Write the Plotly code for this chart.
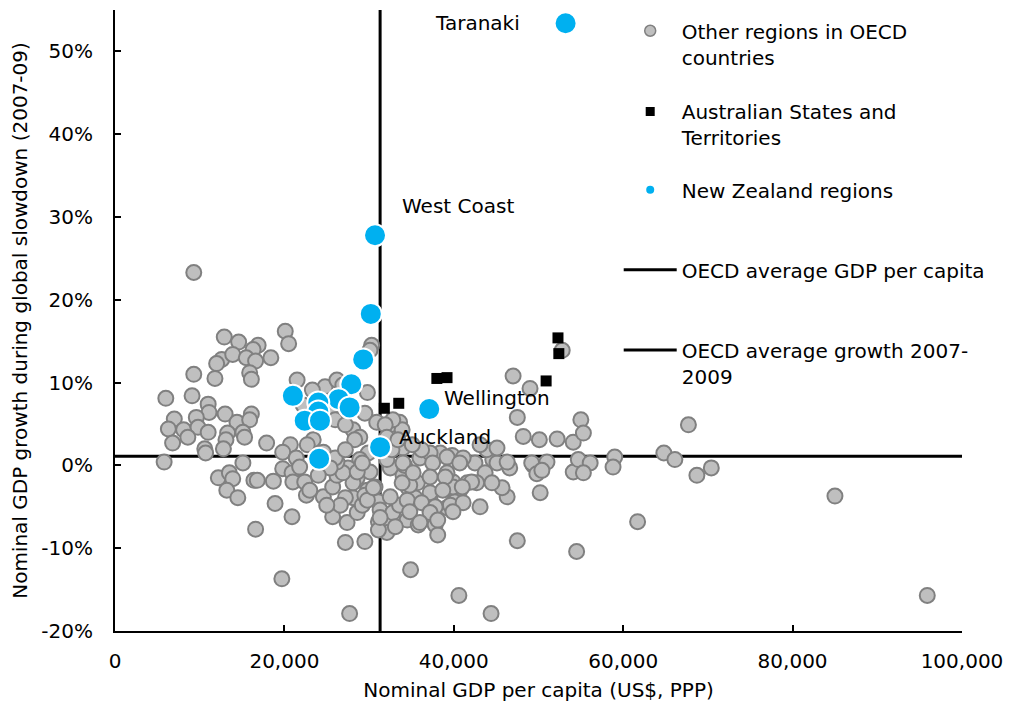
import plotly.graph_objects as go

# ---------------- data ----------------
# Other regions in OECD countries: GDP per capita (US$, PPP) and growth (%)
other_x = [9300, 12900, 14600, 16900, 16300, 12600, 12000, 13900, 15500, 16600,
           18400, 15900, 16100, 9300, 11800, 20100, 20500, 6000, 9100, 11000,
           11100, 9600, 7000, 6300, 8100, 9800, 8600, 6800, 11000, 13000,
           14400, 16100, 15900, 13300, 13100, 15100, 15300, 17900, 20700, 21500,
           10600, 10700, 12800, 5800, 15100, 12200, 13500, 13900, 13200, 14500,
           16400, 16800, 18700, 19800, 20900, 21000, 18900, 20900, 16600, 19700,
           19800, 21400, 21800, 22400, 30300, 30100, 24800, 26200, 29800, 29500,
           30900, 28100, 28900, 28300, 32500, 33600, 33900, 26600, 25400, 23300,
           26900, 22200, 26000, 27200, 29900, 28900, 22600, 24600, 25700, 26200,
           27500, 28600, 28100, 27200, 25700, 27400, 28600, 29200, 29800, 30700,
           31100, 31300, 31100, 31900, 32100, 31100, 32800, 33600, 34500, 34600,
           34000, 32500, 35400, 35800, 27200, 29500, 34900, 27700, 29500, 30100,
           26600, 25000, 47500, 43100, 46300, 45700, 50200, 49400, 46600, 44600,
           42500, 39800, 38400, 36000, 34200, 32100, 41600, 39900, 40700, 39200,
           39900, 39200, 37800, 38100, 37200, 37200, 35700, 34800, 33900, 31300,
           29800, 30500, 28100, 26900, 26200, 28600, 43700, 44500, 42700, 47000,
           49000, 47500, 48200, 50100, 52200, 54100, 55000, 49200, 49800, 51000,
           54100, 40100, 39900, 42100, 45100, 46300, 43900, 41100, 39200, 37200,
           36200, 34000, 32800, 31900, 32100, 34000, 37500, 35200, 37200, 39000,
           40700, 37200, 38700, 41000, 34500, 36200, 37800, 39600, 41100, 34800,
           37200, 32500, 33100, 36000, 38100, 39900, 43100, 45100, 55300, 50400,
           54700, 56100, 55300, 59000, 58800, 61700, 54500, 64800, 66100, 67700,
           68700, 70400, 85000, 95900, 44400, 40600, 52800, 24600, 26000, 27200,
           23400, 22700, 25400, 24000, 23000, 29200, 32700, 33400, 35100]
other_y = [23.3, 15.5, 14.9, 14.5, 14.0, 12.8, 12.3, 13.4, 13.0, 12.6,
           13.0, 11.2, 10.4, 11.0, 10.5, 16.2, 14.7, 8.1, 8.4, 7.4,
           6.4, 5.8, 5.6, 4.4, 4.3, 4.6, 3.4, 2.7, 4.0, 6.2,
           5.2, 6.2, 5.5, 3.9, 3.1, 4.0, 3.4, 2.7, 2.5, 10.3,
           2.0, 1.5, 2.0, 0.4, 0.3, -1.5, -0.9, -1.6, -3.0, -3.9,
           -1.8, -1.8, -1.9, -0.4, -0.9, -2.0, -4.6, -6.2, -7.7, -13.7,
           1.6, 0.9, -0.2, -2.0, 14.5, 13.9, 9.5, 10.3, 8.8, 6.3,
           5.2, 4.3, 3.4, 3.1, 4.9, 5.2, 4.3, 5.8, 6.3, 9.1,
           9.7, 7.3, 5.5, 4.9, 1.5, 0.7, -3.6, -3.8, -2.6, -1.2,
           -0.3, -1.5, -3.9, -3.9, -6.2, -6.9, -5.7, -4.8, -3.0, -2.6,
           -4.4, -5.4, -6.8, -6.9, -8.1, -7.8, -5.7, -4.8, -6.6, -2.7,
           -1.2, -0.3, -3.9, -7.2, -9.3, -9.2, -12.6, -17.9, -3.6, -0.8,
           -4.8, -4.8, -9.1, -5.0, -3.8, -2.7, -3.3, 0.0, -0.3, 0.7,
           0.3, 1.2, 1.5, 0.9, 0.0, 0.7, -2.1, -2.0, -3.0, -0.9,
           -4.5, -5.1, -7.2, -8.4, -5.4, -3.8, -2.1, -2.4, -2.1, -6.3,
           -4.2, -2.7, -2.1, -0.9, 0.4, -0.8, -0.9, -2.1, -2.1, 10.8,
           9.3, 5.8, 3.5, 3.1, 3.2, 2.8, 5.5, 0.3, -1.0, 0.4,
           -0.8, -4.4, -2.6, -2.0, 0.3, 0.4, 1.9, 0.9, 1.0, 1.5,
           1.9, 2.1, 5.5, 4.9, 3.4, 0.3, 0.3, -0.9, -1.4, -1.4,
           0.3, -3.3, -3.0, -2.6, -4.2, -4.5, -5.0, -4.8, -4.5, -5.6,
           -5.7, -3.8, -7.4, -6.9, -6.6, -5.6, 2.5, 2.1, 3.9, -0.6,
           0.7, 0.3, -0.9, 1.0, -0.2, -6.8, -10.4, 1.5, 0.7, 4.9,
           -1.2, -0.3, -3.7, -15.7, -17.9, -15.7, 13.9, 1.6, 0.9, 1.9,
           3.1, 2.5, -0.3, -1.2, -3.0, 0.3, 1.9, 3.1, 2.5]

# Australian States and Territories
aus_x = [31800, 33500, 38000, 39200, 50900, 52300, 52400]
aus_y = [6.9, 7.5, 10.5, 10.6, 10.2, 15.4, 13.5]

# New Zealand regions
nz_names = ["Taranaki", "West Coast", "", "", "", "", "", "", "", "", "", "",
            "Wellington", "Auckland", ""]
nz_x = [53200, 30700, 30200, 29300, 27900, 26400, 27700, 24000, 24000, 22400,
        24200, 21000, 37100, 31300, 24100]
nz_y = [53.4, 27.8, 18.3, 12.8, 9.8, 8.0, 7.0, 7.6, 6.5, 5.4,
        5.4, 8.4, 6.8, 2.2, 0.8]

# OECD averages
oecd_avg_gdp = 31300
oecd_avg_growth = 1.1

# Axes
x_range = [0, 100000]
y_range = [-20, 55]
x_ticks = [0, 20000, 40000, 60000, 80000, 100000]
x_ticktext = ["0", "20,000", "40,000", "60,000", "80,000", "100,000"]
y_ticks = [-20, -10, 0, 10, 20, 30, 40, 50]
y_ticktext = ["-20%", "-10%", "0%", "10%", "20%", "30%", "40%", "50%"]

# Labels for highlighted regions (x, y of text anchor in data units)
label_text = ["Taranaki", "West Coast", "Wellington", "Auckland"]
label_x = [37500, 33700, 38600, 33300]
label_y = [53.4, 31.3, 8.1, 3.4]

legend_names = ["Other regions in OECD<br>countries",
                "Australian States and<br>Territories",
                "New Zealand regions",
                "OECD average GDP per capita",
                "OECD average growth 2007-<br>2009"]

FONT = "DejaVu Sans"
GRAY_FILL = "#bfbfbf"
GRAY_LINE = "#808080"
NZ_BLUE = "#00b0f0"

fig = go.Figure()

# Average lines (drawn first, underneath the markers)
fig.add_trace(go.Scatter(x=[oecd_avg_gdp, oecd_avg_gdp], y=y_range, mode="lines",
                         line=dict(color="black", width=3), showlegend=False,
                         hoverinfo="skip"))
fig.add_trace(go.Scatter(x=x_range, y=[oecd_avg_growth, oecd_avg_growth], mode="lines",
                         line=dict(color="black", width=3), showlegend=False,
                         hoverinfo="skip"))

fig.add_trace(go.Scatter(x=other_x, y=other_y, mode="markers",
                         marker=dict(size=15, color=GRAY_FILL,
                                     line=dict(color=GRAY_LINE, width=2)),
                         showlegend=False))
fig.add_trace(go.Scatter(x=aus_x, y=aus_y, mode="markers",
                         marker=dict(symbol="square", size=11, color="black"),
                         showlegend=False))
fig.add_trace(go.Scatter(x=nz_x, y=nz_y, mode="markers", text=nz_names,
                         marker=dict(size=22, color=NZ_BLUE,
                                     line=dict(color="white", width=2)),
                         showlegend=False))

# Legend entries (one legend per entry so they can be spaced like the original)
legend_styles = [
    dict(mode="markers", marker=dict(size=11, color=GRAY_FILL, line=dict(color=GRAY_LINE, width=1.5))),
    dict(mode="markers", marker=dict(symbol="square", size=9, color="black")),
    dict(mode="markers", marker=dict(size=8, color=NZ_BLUE)),
    dict(mode="lines", line=dict(color="black", width=3)),
    dict(mode="lines", line=dict(color="black", width=3)),
]
legend_ids = ["legend", "legend2", "legend3", "legend4", "legend5"]
for name, style, lid in zip(legend_names, legend_styles, legend_ids):
    fig.add_trace(go.Scatter(x=[None], y=[None], name=name, legend=lid,
                             showlegend=True, **style))

for t, lx, ly in zip(label_text, label_x, label_y):
    fig.add_annotation(x=lx, y=ly, text=t, showarrow=False, xanchor="left",
                       yanchor="middle", font=dict(family=FONT, size=20, color="black"))

leg_common = dict(bgcolor="rgba(0,0,0,0)", font=dict(family=FONT, size=20, color="black"),
                  itemwidth=53, xanchor="left", yanchor="top", valign="top",
                  x=0.5947, borderwidth=0)
leg_tops = [0.998, 0.868, 0.742, 0.613, 0.484]

fig.update_layout(
    width=1006, height=701,
    margin=dict(l=107, r=52, t=2, b=78),
    paper_bgcolor="white", plot_bgcolor="white",
    font=dict(family=FONT, size=20, color="black"),
    showlegend=True,
    legend=dict(y=leg_tops[0], **leg_common),
    legend2=dict(y=leg_tops[1], **leg_common),
    legend3=dict(y=leg_tops[2], **leg_common),
    legend4=dict(y=leg_tops[3], **leg_common),
    legend5=dict(y=leg_tops[4], **leg_common),
    xaxis=dict(range=x_range, tickvals=x_ticks, ticktext=x_ticktext,
               ticks="inside", ticklen=6, tickwidth=1.5, tickcolor="black",
               showline=True, linecolor="black", linewidth=2,
               showgrid=False, zeroline=False, ticklabelstandoff=11,
               tickfont=dict(family=FONT, size=20),
               title=dict(text="Nominal GDP per capita (US$, PPP)", standoff=11,
                          font=dict(family=FONT, size=20))),
    yaxis=dict(range=y_range, tickvals=y_ticks, ticktext=y_ticktext,
               ticks="inside", ticklen=6, tickwidth=1.5, tickcolor="black",
               showline=True, linecolor="black", linewidth=2,
               showgrid=False, zeroline=False, ticklabelstandoff=16,
               tickfont=dict(family=FONT, size=20),
               title=dict(text="Nominal GDP growth during global slowdown (2007-09)",
                          standoff=12, font=dict(family=FONT, size=20))),
)

fig.write_html("out.html")
